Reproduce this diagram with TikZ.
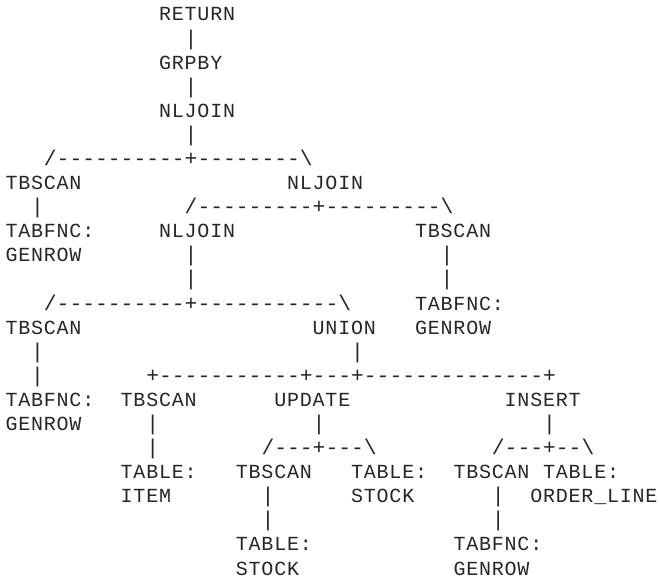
\documentclass[tikz,border=0pt]{standalone}
\usepackage{fontspec}
\setmonofont{Liberation Mono}
\newcommand\bs{\textbackslash}
\newcommand\tok[4]{\node[tt] (#1) at ({5.5+12.8*#2},{21+24.09*(#3-1)}) {#4};}
\newcommand\lnk[4]{\node[ln] (#1) at ({5.5+12.8*#2},{21+24.09*(#3-1)}) {#4};}
\begin{document}
\begin{tikzpicture}[x=0.75pt,y=-0.75pt,
  base/.style={anchor=base west, inner sep=0pt, outer sep=0pt, text=black!85},
  tt/.style={base, font=\ttfamily\fontsize{15}{17}\selectfont\addfontfeature{LetterSpace=4}},
  ln/.style={base, font=\ttfamily\fontsize{16}{18}\selectfont}]
\useasboundingbox (0,0) rectangle (660,580);
\tok{ret}{12}{1}{RETURN}
\lnk{v2}{14}{2}{|}
\tok{grp}{12}{3}{GRPBY}
\lnk{v4}{14}{4}{|}
\tok{nl1}{12}{5}{NLJOIN}
\lnk{v6}{14}{6}{|}
\lnk{b7}{3}{7}{/----------+--------\bs}
\tok{tb1}{0}{8}{TBSCAN}
\tok{nl2}{22}{8}{NLJOIN}
\lnk{v9a}{2}{9}{|}
\lnk{b9}{14}{9}{/---------+---------\bs}
\tok{tf1}{0}{10}{TABFNC:}
\tok{nl3}{12}{10}{NLJOIN}
\tok{tb2}{32}{10}{TBSCAN}
\tok{gr1}{0}{11}{GENROW}
\lnk{v11a}{14}{11}{|}
\lnk{v11b}{34}{11}{|}
\lnk{v12a}{14}{12}{|}
\lnk{v12b}{34}{12}{|}
\lnk{b13}{3}{13}{/----------+-----------\bs}
\tok{tf2}{32}{13}{TABFNC:}
\tok{tb3}{0}{14}{TBSCAN}
\tok{un}{24}{14}{UNION}
\tok{gr2}{32}{14}{GENROW}
\lnk{v15a}{2}{15}{|}
\lnk{v15b}{27}{15}{|}
\lnk{v16a}{2}{16}{|}
\lnk{b16}{11}{16}{+-----------+---+--------------+}
\tok{tf3}{0}{17}{TABFNC:}
\tok{tb4}{9}{17}{TBSCAN}
\tok{upd}{21}{17}{UPDATE}
\tok{ins}{39}{17}{INSERT}
\tok{gr3}{0}{18}{GENROW}
\lnk{v18a}{11}{18}{|}
\lnk{v18b}{24}{18}{|}
\lnk{v18c}{42}{18}{|}
\lnk{v19a}{11}{19}{|}
\lnk{b19a}{20}{19}{/---+---\bs}
\lnk{b19b}{38}{19}{/---+--\bs}
\tok{ta1}{9}{20}{TABLE:}
\tok{tb5}{18}{20}{TBSCAN}
\tok{ta2}{27}{20}{TABLE:}
\tok{tb6}{35}{20}{TBSCAN}
\tok{ta3}{42}{20}{TABLE:}
\tok{item}{9}{21}{ITEM}
\lnk{v21a}{20}{21}{|}
\tok{st1}{27}{21}{STOCK}
\lnk{v21b}{38}{21}{|}
\tok{ol}{41}{21}{ORDER\_LINE}
\lnk{v22a}{20}{22}{|}
\lnk{v22b}{38}{22}{|}
\tok{ta4}{18}{23}{TABLE:}
\tok{tf4}{35}{23}{TABFNC:}
\tok{st2}{18}{24}{STOCK}
\tok{gr4}{35}{24}{GENROW}
\end{tikzpicture}
\end{document}
